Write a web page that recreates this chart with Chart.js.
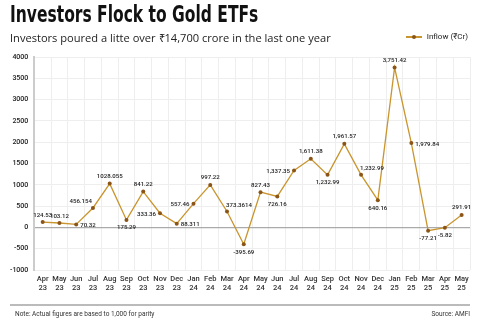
<!DOCTYPE html>
<html>
<head>
<meta charset="utf-8">
<script src="https://cdn.jsdelivr.net/npm/chart.js@4"></script>
<style>
  body { margin: 0; background: #fff; }
  #wrap { position: relative; width: 480px; height: 325px; overflow: hidden; }
  #myChart { position: absolute; left: 0; top: 0; }
  .title { position: absolute; left: 10px; top: 1px; font-family: "Liberation Sans Narrow", "DejaVu Sans Condensed", sans-serif; font-weight: bold; font-size: 23px; color: #111; transform: scaleX(0.75); transform-origin: left top; white-space: nowrap; }
  .sub { position: absolute; left: 10px; top: 30px; font-family: "Open Sans", sans-serif; font-size: 11.1px; color: #222; white-space: nowrap; }
  .legend { position: absolute; right: 12px; top: 32px; font-family: "Roboto", sans-serif; font-size: 8px; color: #222; }
  .legend i { display: inline-block; width: 16px; height: 1.5px; background: #c9952e; vertical-align: middle; position: relative; margin-right: 5px; }
  .legend i b { position: absolute; left: 6px; top: -1.5px; width: 4px; height: 4px; border-radius: 2px; background: #8a5516; }
  .rule { position: absolute; left: 10px; right: 10px; top: 304px; height: 1.5px; background: #bbb; }
  .note { position: absolute; left: 15px; top: 310px; font-family: "Roboto", sans-serif; font-size: 6.5px; color: #333; }
  .src { position: absolute; right: 10px; top: 310px; font-family: "Roboto", sans-serif; font-size: 6.5px; color: #333; }
</style>
</head>
<body>
<div id="wrap">
  <canvas id="myChart" width="480" height="325"></canvas>
  <div class="title">Investors Flock to Gold ETFs</div>
  <div class="sub">Investors poured a litte over ₹14,700 crore in the last one year</div>
  <div class="legend"><i><b></b></i>Inflow (₹Cr)</div>
  <div class="rule"></div>
  <div class="note">Note: Actual figures are based to 1,000 for parity</div>
  <div class="src">Source: AMFI</div>
</div>
<script>
var months = ['Apr','May','Jun','Jul','Aug','Sep','Oct','Nov','Dec','Jan','Feb','Mar',
              'Apr','May','Jun','Jul','Aug','Sep','Oct','Nov','Dec','Jan','Feb','Mar','Apr','May'];
var years = ['23','23','23','23','23','23','23','23','23','24','24','24',
             '24','24','24','24','24','24','24','24','24','25','25','25','25','25'];
var inflow = [124.53, 103.12, 70.32, 456.154, 1028.055, 175.29, 841.22, 333.36, 88.311, 557.46, 997.22, 373.3614,
              -395.69, 827.43, 726.16, 1337.35, 1611.38, 1232.99, 1961.57, 1232.99, 640.16, 3751.42, 1979.84, -77.21, -5.82, 291.91];
var valueLabels = ['124.53','103.12','70.32','456.154','1028.055','175.29','841.22','333.36','88.311','557.46','997.22','373.3614',
                   '-395.69','827.43','726.16','1,337.35','1,611.38','1,232.99','1,961.57','1,232.99','640.16','3,751.42','1,979.84','-77.21','-5.82','291.91'];
// where each value label sits relative to its point
var labelPos = ['top','top','right','topleft','top','bottom','top','left','right','left','top','topright',
                'bottom','top','bottom','left','top','bottom','top','topright','bottom','top','right','bottom','bottom','top'];
var yTicks = [4000, 3500, 3000, 2500, 2000, 1500, 1000, 500, 0, -500, -1000];

var labels = [];
for (var i = 0; i < months.length; i++) labels.push([months[i], years[i]]);

var valueLabelPlugin = {
    id: 'valueLabels',
    afterDatasetsDraw: function(chart) {
        var c = chart.ctx;
        var meta = chart.getDatasetMeta(0);
        c.save();
        c.font = '500 6.1px Roboto';
        c.fillStyle = '#222';
        meta.data.forEach(function(pt, i) {
            var x = pt.x, y = pt.y, p = labelPos[i];
            c.textBaseline = 'middle';
            if (p == 'top') { c.textAlign = 'center'; c.fillText(valueLabels[i], x, y - 7); }
            else if (p == 'bottom') { c.textAlign = 'center'; c.fillText(valueLabels[i], x, y + 8); }
            else if (p == 'right') { c.textAlign = 'left'; c.fillText(valueLabels[i], x + 4, y + 1); }
            else if (p == 'left') { c.textAlign = 'right'; c.fillText(valueLabels[i], x - 4, y + 1); }
            else if (p == 'topleft') { c.textAlign = 'right'; c.fillText(valueLabels[i], x - 1, y - 6); }
            else if (p == 'topright') { c.textAlign = 'left'; c.fillText(valueLabels[i], x - 1, y - 6); }
        });
        c.restore();
    }
};

var ctx = document.getElementById('myChart').getContext('2d');
var myChart = new Chart(ctx, {
    type: 'line',
    data: {
        labels: labels,
        datasets: [{
            label: 'Inflow (₹Cr)',
            data: inflow,
            borderColor: '#c9952e',
            borderWidth: 1.3,
            pointRadius: 2,
            pointBackgroundColor: '#8a5516',
            pointBorderColor: '#8a5516',
            pointBorderWidth: 0,
            tension: 0
        }]
    },
    options: {
        responsive: false,
        animation: false,
        layout: { padding: { left: 4, right: 10, top: 57, bottom: 27 } },
        plugins: {
            legend: { display: false },
            tooltip: { enabled: false }
        },
        scales: {
            x: {
                offset: true,
                grid: { offset: true, color: '#eee', lineWidth: 1, drawTicks: false },
                border: { display: false },
                ticks: { color: '#333', font: { family: 'Roboto', size: 7.5, weight: '500' }, padding: 5, maxRotation: 0, autoSkip: false }
            },
            y: {
                min: -1000,
                max: 4000,
                afterBuildTicks: function(axis) {
                    axis.ticks = yTicks.map(function(v) { return { value: v }; });
                },
                grid: {
                    color: function(c) { return c.tick && c.tick.value === 0 ? '#aaa' : '#eee'; },
                    lineWidth: function(c) { return c.tick && c.tick.value === 0 ? 1.2 : 1; },
                    drawTicks: false
                },
                border: { display: true, color: '#ccc', width: 2 },
                ticks: {
                    color: '#222', font: { family: 'Roboto', size: 7, weight: '500' }, padding: 6,
                    callback: function(v) { return String(v); }
                }
            }
        }
    },
    plugins: [valueLabelPlugin]
});
</script>
</body>
</html>
